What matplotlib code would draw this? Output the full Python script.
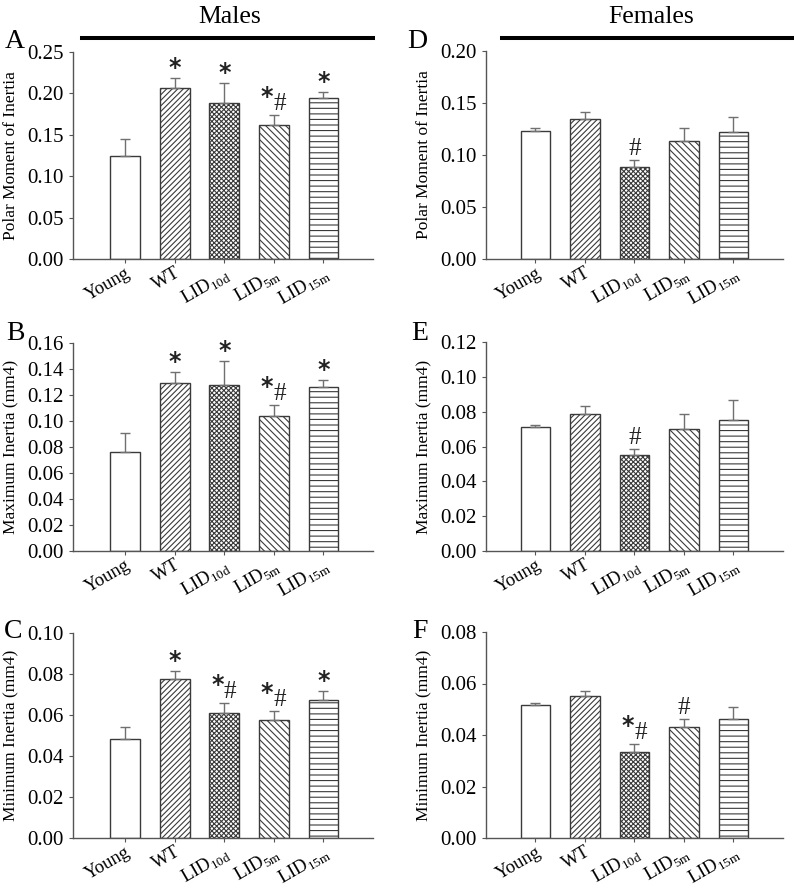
import numpy as np
import matplotlib
matplotlib.use('Agg')
import matplotlib.pyplot as plt
from matplotlib.lines import Line2D

plt.rcParams['font.family'] = ['Liberation Serif', 'DejaVu Sans']
plt.rcParams['mathtext.fontset'] = 'custom'
plt.rcParams['mathtext.rm'] = 'Liberation Serif'
plt.rcParams['hatch.linewidth'] = 0.8

# group labels
groups = ['Young', 'WT', r'LID$_\mathregular{10d}$', r'LID$_\mathregular{5m}$', r'LID$_\mathregular{15m}$']
hatches = ['', '//////', 'xxxxxxx', '\\\\\\\\\\', '---']

# Males
m_polar = [0.125, 0.207, 0.189, 0.162, 0.194]
m_polar_err = [0.0195, 0.0115, 0.023, 0.0115, 0.0075]
m_polar_sig = ['', '*', '*', '*#', '*']

m_max = [0.076, 0.129, 0.128, 0.104, 0.126]
m_max_err = [0.0144, 0.0085, 0.018, 0.0083, 0.0054]
m_max_sig = ['', '*', '*', '*#', '*']

m_min = [0.0483, 0.0774, 0.061, 0.0578, 0.0675]
m_min_err = [0.0058, 0.0039, 0.0049, 0.0041, 0.0043]
m_min_sig = ['', '*', '*#', '*#', '*']

# Females
f_polar = [0.1233, 0.1345, 0.0888, 0.1137, 0.1217]
f_polar_err = [0.0023, 0.0064, 0.0064, 0.0119, 0.0153]
f_polar_sig = ['', '', '#', '', '']

f_max = [0.0714, 0.0789, 0.0549, 0.0703, 0.0753]
f_max_err = [0.0012, 0.0044, 0.0039, 0.0086, 0.0113]
f_max_sig = ['', '', '#', '', '']

f_min = [0.0516, 0.055, 0.0335, 0.0433, 0.0464]
f_min_err = [0.001, 0.0021, 0.0031, 0.003, 0.0044]
f_min_sig = ['', '', '*#', '#', '']

W, H = 794, 890
fig = plt.figure(figsize=(W / 100, H / 100), dpi=100)

def px_axes(left, top, right, bottom):
    return fig.add_axes([left / W, 1 - bottom / H, (right - left) / W, (bottom - top) / H])

def star(ax, xi, top, dx, dy):
    ax.annotate('*', (xi, top), xytext=(dx, dy), textcoords='offset pixels',
                ha='center', va='baseline', fontsize=17, fontweight='bold',
                family='DejaVu Sans', color='#222222')

def hash_(ax, xi, top, dx, dy):
    ax.annotate('#', (xi, top), xytext=(dx, dy), textcoords='offset pixels',
                ha='center', va='baseline', fontsize=18, color='#222222')

def panel(ax, vals, errs, sigs, ymax, step, ylabel, xleft):
    x = np.arange(len(vals))
    ax.bar(x, vals, width=0.6, color='white', edgecolor='#3a3a3a', linewidth=1.0,
           hatch=hatches, zorder=2)
    ax.errorbar(x, vals, yerr=[np.zeros(len(errs)), errs], fmt='none', ecolor='#707070',
                elinewidth=1.0, capsize=3.5, capthick=1.0, zorder=3)
    ax.set_xlim(xleft, 5.0)
    ax.set_ylim(0, ymax)
    ax.set_yticks(np.arange(0, ymax + step / 2, step))
    ax.yaxis.set_major_formatter(plt.FormatStrFormatter('%.2f'))
    ax.set_xticks(x)
    ax.set_xticklabels(groups, rotation=30, ha='right', rotation_mode='anchor')
    ax.tick_params(axis='both', direction='out', length=3, width=0.8, color='#555555',
                   labelsize=15)
    ax.tick_params(axis='x', pad=1, labelsize=13.5)
    for s in ['top', 'right']:
        ax.spines[s].set_visible(False)
    for s in ['left', 'bottom']:
        ax.spines[s].set_color('#555555')
        ax.spines[s].set_linewidth(1.0)
    ax.set_ylabel(ylabel, fontsize=12.5, labelpad=6)
    for xi, v, e, s in zip(x, vals, errs, sigs):
        top = v + e
        if s == '*':
            star(ax, xi, top, 0, 3)
        elif s == '#':
            hash_(ax, xi, top, 0, 5)
        elif s == '*#':
            star(ax, xi, top, -7, 11)
            hash_(ax, xi, top, 6, 5)

axA = px_axes(73, 52, 373, 259)
axB = px_axes(73, 343, 373, 551)
axC = px_axes(73, 633, 373, 838)
axD = px_axes(486, 51, 783, 259)
axE = px_axes(486, 342, 783, 551)
axF = px_axes(486, 632, 783, 838)

panel(axA, m_polar, m_polar_err, m_polar_sig, 0.25, 0.05, 'Polar Moment of Inertia', -1.05)
panel(axB, m_max, m_max_err, m_max_sig, 0.16, 0.02, 'Maximum Inertia (mm4)', -1.05)
panel(axC, m_min, m_min_err, m_min_sig, 0.10, 0.02, 'Minimum Inertia (mm4)', -1.05)
panel(axD, f_polar, f_polar_err, f_polar_sig, 0.20, 0.05, 'Polar Moment of Inertia', -1.0)
panel(axE, f_max, f_max_err, f_max_sig, 0.12, 0.02, 'Maximum Inertia (mm4)', -1.0)
panel(axF, f_min, f_min_err, f_min_sig, 0.08, 0.02, 'Minimum Inertia (mm4)', -1.0)

# panel letters
for letter, lx, ly in [('A', 15, 42), ('B', 15, 333), ('C', 13, 632),
                       ('D', 417, 42), ('E', 420, 334), ('F', 420, 632)]:
    fig.text(lx / W, 1 - ly / H, letter, ha='center', va='center', fontsize=20)

# column headers with bars
fig.text(230 / W, 1 - 17 / H, 'Males', ha='center', va='center', fontsize=18.5)
fig.text(651 / W, 1 - 17 / H, 'Females', ha='center', va='center', fontsize=18.5)
fig.add_artist(Line2D([82 / W, 373 / W], [1 - 38 / H, 1 - 38 / H], color='black', lw=2.9))
fig.add_artist(Line2D([502 / W, 793 / W], [1 - 38 / H, 1 - 38 / H], color='black', lw=2.9))

fig.savefig('out.png', dpi=100)
